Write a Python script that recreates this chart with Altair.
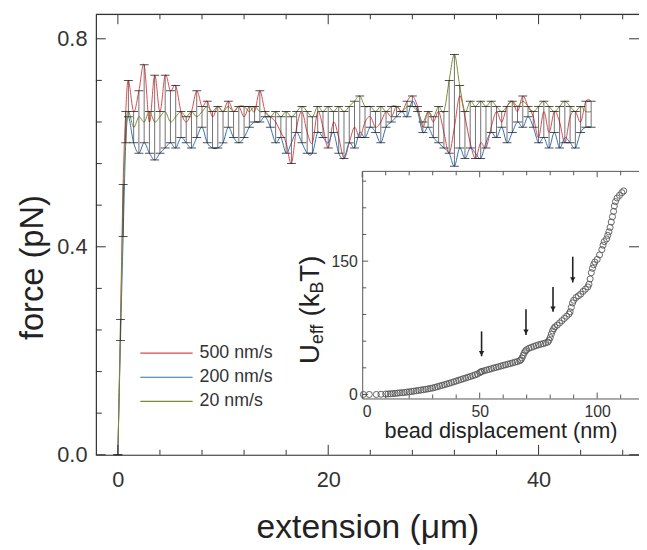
import altair as alt
import pandas as pd

FONT = "Liberation Sans"
AX = "#333333"

# ---------------- main panel data ----------------
extension = [0, 0.25, 0.5, 0.75, 1.0,
             1.5, 2.0, 2.5, 3.0, 3.5, 4.0, 4.5, 5.0, 5.5, 6.0,
             6.5, 7.0, 7.5, 8.0, 8.5, 9.0, 9.5, 10.0, 10.5, 11.0,
             11.5, 12.0, 12.5, 13.0, 13.5, 14.0, 14.5, 15.0, 15.5, 16.0,
             16.5, 17.0, 17.5, 18.0, 18.5, 19.0, 19.5, 20.0, 20.5, 21.0,
             21.5, 22.0, 22.5, 23.0, 23.5, 24.0, 24.5, 25.0, 25.5, 26.0,
             26.5, 27.0, 27.5, 28.0, 28.5, 29.0, 29.5, 30.0, 30.5, 31.0,
             31.5, 32.0, 32.5, 33.0, 33.5, 34.0, 34.5, 35.0, 35.5, 36.0,
             36.5, 37.0, 37.5, 38.0, 38.5, 39.0, 39.5, 40.0, 40.5, 41.0,
             41.5, 42.0, 42.5, 43.0, 43.5, 44.0, 44.5, 45.0]

force_500 = [0.00, 0.26, 0.52, 0.66, 0.72,
             0.66, 0.70, 0.75, 0.64, 0.73, 0.66, 0.73, 0.70, 0.71, 0.66,
             0.64, 0.66, 0.70, 0.67, 0.68, 0.65, 0.67, 0.66, 0.68, 0.66,
             0.67, 0.65, 0.67, 0.66, 0.70, 0.66, 0.65, 0.64, 0.62, 0.60,
             0.56, 0.63, 0.66, 0.62, 0.60, 0.66, 0.63, 0.59, 0.64, 0.61,
             0.57, 0.60, 0.63, 0.61, 0.64, 0.65, 0.63, 0.64, 0.66, 0.65,
             0.67, 0.66, 0.68, 0.69, 0.67, 0.63, 0.66, 0.64, 0.66, 0.62,
             0.58, 0.63, 0.69, 0.65, 0.60, 0.57, 0.60, 0.59, 0.63, 0.66,
             0.64, 0.67, 0.68, 0.66, 0.69, 0.67, 0.65, 0.61, 0.66, 0.62,
             0.66, 0.64, 0.60, 0.65, 0.66, 0.64, 0.68, 0.68]

force_200 = [0.00, 0.22, 0.42, 0.60, 0.65,
             0.60, 0.58, 0.60, 0.58, 0.567, 0.58, 0.59, 0.60, 0.59, 0.61,
             0.60, 0.59, 0.61, 0.63, 0.60, 0.59, 0.59, 0.60, 0.63, 0.61,
             0.60, 0.61, 0.63, 0.64, 0.64, 0.65, 0.63, 0.60, 0.61, 0.58,
             0.60, 0.62, 0.60, 0.58, 0.58, 0.62, 0.61, 0.60, 0.62, 0.58,
             0.57, 0.60, 0.59, 0.62, 0.61, 0.63, 0.62, 0.60, 0.63, 0.64,
             0.65, 0.66, 0.65, 0.68, 0.66, 0.62, 0.63, 0.61, 0.60, 0.59,
             0.58, 0.555, 0.59, 0.57, 0.59, 0.58, 0.57, 0.60, 0.62, 0.61,
             0.63, 0.60, 0.62, 0.64, 0.63, 0.65, 0.63, 0.60, 0.61, 0.59,
             0.62, 0.59, 0.61, 0.60, 0.59, 0.62, 0.63, 0.63]

force_20 = [0.00, 0.24, 0.48, 0.62, 0.66,
            0.63, 0.65, 0.64, 0.66, 0.64, 0.65, 0.66, 0.64, 0.65, 0.66,
            0.65, 0.66, 0.65, 0.66, 0.67, 0.66, 0.67, 0.66, 0.67, 0.66,
            0.67, 0.67, 0.66, 0.67, 0.66, 0.66, 0.65, 0.66, 0.65, 0.66,
            0.65, 0.66, 0.67, 0.66, 0.65, 0.67, 0.66, 0.67, 0.66, 0.67,
            0.66, 0.67, 0.68, 0.69, 0.67, 0.67, 0.66, 0.67, 0.66, 0.67,
            0.67, 0.66, 0.67, 0.67, 0.66, 0.64, 0.66, 0.65, 0.67, 0.66,
            0.72, 0.77, 0.71, 0.66, 0.68, 0.67, 0.68, 0.67, 0.68, 0.67,
            0.66, 0.67, 0.68, 0.67, 0.68, 0.67, 0.66, 0.67, 0.68, 0.67,
            0.66, 0.67, 0.68, 0.67, 0.66, 0.67, 0.66, 0.66]

series_names = ["500 nm/s", "200 nm/s", "20 nm/s"]
series_colors = ["#e0474c", "#2f6fba", "#7d8c2e"]

main_x_major = [0, 20, 40]
main_x_minor = [4, 8, 12, 16, 24, 28, 32, 36, 44, 48]
main_y_major = [0.0, 0.4, 0.8]
main_y_minor = [0.08, 0.16, 0.24, 0.32, 0.48, 0.56, 0.64, 0.72]

# ---------------- inset data ----------------
displacement = [0.5, 3, 6, 8, 10,
                11, 12, 13, 14, 15, 16, 17, 18, 19, 20,
                21, 22, 23, 24, 25, 26, 27, 28, 29, 30,
                31, 32, 33, 34, 35, 36, 37, 38, 39, 40,
                41, 42, 43, 44, 45, 46, 47, 48, 49, 50,
                50.5,
                51, 52, 53, 54, 55, 56, 57, 58, 59, 60, 61, 62, 63, 64, 65, 66, 67,
                67.5, 68, 68.5, 69, 69.5, 70,
                71, 72, 73, 74, 75, 76, 77, 78, 79,
                79.5, 80, 80.5, 81, 81.5, 82,
                83, 84, 85, 86, 87, 88,
                88.5, 89, 89.5, 90,
                91, 92, 93, 94, 95, 96,
                96.5, 97, 97.5, 98, 98.5, 99,
                100, 101, 102,
                102.5, 103, 104,
                104.5, 105, 105.5, 106, 106.5, 107,
                107.3, 107.8, 108.5, 109.5, 110.5, 111.3]

u_eff = [0, 0, 0, 0.3, 0.5,
         0.6, 0.8, 1.0, 1.2, 1.5, 1.8, 2.0, 2.3, 2.7, 3.0,
         3.4, 3.8, 4.2, 4.6, 5.0, 5.4, 5.8, 6.3, 6.8, 7.3,
         8.0, 8.8, 9.5, 10.3, 11.0, 11.8, 12.6, 13.4, 14.3, 15.1,
         16.0, 16.8, 17.7, 18.5, 19.4, 20.2, 21.1, 22.0, 23.0, 24.5,
         25.5,
         26.0, 26.8, 27.5, 28.2, 29.0, 29.8, 30.5, 31.2, 32.0, 32.7, 33.4, 34.1, 34.8, 35.5, 36.3, 37.0, 38.0,
         39.0, 41.0, 44.0, 47.0, 49.0, 50.5,
         52.0, 53.0, 54.0, 55.0, 55.8, 56.5, 57.2, 58.0, 59.0,
         61.0, 64.0, 68.0, 71.5, 74.0, 76.0,
         78.0, 80.5, 83.0, 85.5, 88.0, 90.5,
         93.0, 98.0, 103.0, 106.0,
         109.0, 111.0, 113.0, 116.0, 118.5, 121.0,
         124.0, 130.0, 137.0, 142.0, 146.0, 149.0,
         152.0, 157.0, 163.0,
         168.0, 172.0, 175.0,
         179.0, 183.0, 188.0, 194.0, 200.0, 206.0,
         212.0, 217.0, 221.0, 224.0, 227.0, 229.0]

arrow_disp = [50.8, 69.7, 81.2, 89.6]
arrow_top = [71, 96, 121, 155]
arrow_tip = [43, 67, 93, 126]

inset_x_major = [0, 50, 100]
inset_x_minor = [10, 20, 30, 40, 60, 70, 80, 90, 110]
inset_y_major = [0, 150]
inset_y_minor = [30, 60, 90, 120, 180, 210, 240]

# ---------------- layout ----------------
W, H = 550, 446
X_DOM = [-2.09, 49.55]
Y_DOM = [0, 0.847]
IX0, IX1 = 269.7, 550      # inset left/right (px, plot coords)
IY0, IY1 = 159, 389        # inset top/bottom
I_X_DOM = [0, 117.8]
I_Y_DOM = [-4.5, 251]


def x_scale():
    return alt.Scale(domain=X_DOM, range=[0, W], nice=False, zero=False)


def y_scale():
    return alt.Scale(domain=Y_DOM, range=[H, 0], nice=False, zero=False)


def ix_scale():
    return alt.Scale(domain=I_X_DOM, range=[IX0, IX1], nice=False, zero=False)


def iy_scale():
    return alt.Scale(domain=I_Y_DOM, range=[IY1, IY0], nice=False, zero=False)


color_scale = alt.Scale(domain=series_names, range=series_colors)

df = pd.DataFrame({
    "extension": extension * 3,
    "force": force_500 + force_200 + force_20,
    "series": [s for s in series_names for _ in extension],
})

x_axis = alt.Axis(orient="bottom", values=main_x_major, format="d", ticks=False, tickSize=0,
                  labelFontSize=22, labelPadding=15, labelFont=FONT, labelColor=AX,
                  domainColor=AX, domainWidth=1.2, grid=False,
                  title="extension (μm)", titleFontSize=34, titleFont=FONT,
                  titleFontWeight="normal", titleColor="#222", titleY=74,
                  titleBaseline="middle")
y_axis = alt.Axis(orient="left", values=main_y_major, format=".1f", ticks=False, tickSize=0,
                  labelFontSize=22, labelPadding=9, labelFont=FONT, labelColor=AX,
                  domainColor=AX, domainWidth=1.2, grid=False,
                  title="force (pN)", titleFontSize=33, titleFont=FONT,
                  titleFontWeight="normal", titleColor="#222", titleAngle=270,
                  titleX=-64, titleY=256, titleAlign="center", titleBaseline="middle")

lines = alt.Chart(df).mark_line(strokeWidth=1, interpolate="cardinal").encode(
    x=alt.X("extension:Q", scale=x_scale(), axis=x_axis),
    y=alt.Y("force:Q", scale=y_scale(), axis=y_axis),
    color=alt.Color("series:N", scale=color_scale, legend=None),
)

errbars = alt.Chart(df).mark_rule(color="#333", strokeWidth=0.7).encode(
    x=alt.X("extension:Q", scale=x_scale(), axis=None),
    y=alt.Y("min(force):Q", scale=y_scale(), axis=None), y2="max(force):Q")
caps_lo = alt.Chart(df).mark_tick(orient="horizontal", size=9, thickness=0.8, color="#222").encode(
    x=alt.X("extension:Q", scale=x_scale(), axis=None),
    y=alt.Y("min(force):Q", scale=y_scale(), axis=None))
caps_hi = alt.Chart(df).mark_tick(orient="horizontal", size=9, thickness=0.8, color="#222").encode(
    x=alt.X("extension:Q", scale=x_scale(), axis=None),
    y=alt.Y("max(force):Q", scale=y_scale(), axis=None))


def xticks(vals, scale, y0, y1, color=AX, w=1):
    return alt.Chart(pd.DataFrame({"v": vals})).mark_rule(color=color, strokeWidth=w).encode(
        x=alt.X("v:Q", scale=scale, axis=None), y=alt.value(y0), y2=alt.value(y1))


def yticks(vals, scale, x0, x1, color=AX, w=1):
    return alt.Chart(pd.DataFrame({"v": vals})).mark_rule(color=color, strokeWidth=w).encode(
        y=alt.Y("v:Q", scale=scale, axis=None), x=alt.value(x0), x2=alt.value(x1))


one = pd.DataFrame({"a": [0]})
main_frame_top = alt.Chart(one).mark_rule(color=AX, strokeWidth=1.2).encode(
    x=alt.value(0), x2=alt.value(W), y=alt.value(0))

main_layers = [
    lines, errbars, caps_lo, caps_hi,
    xticks(main_x_major, x_scale(), H, H - 10), xticks(main_x_minor, x_scale(), H, H - 5),
    xticks(main_x_major, x_scale(), 0, 10), xticks(main_x_minor, x_scale(), 0, 5),
    yticks(main_y_major, y_scale(), 0, 10), yticks(main_y_minor, y_scale(), 0, 6),
    yticks(main_y_major, y_scale(), W - 10, W),
    main_frame_top,
]

# ---------------- inset ----------------
IAX = "#555555"
idf = pd.DataFrame({"disp": displacement, "u": u_eff})
adf = pd.DataFrame({"disp": arrow_disp, "top": arrow_top, "tip": arrow_tip})

ix_axis = alt.Axis(orient="bottom", offset=-(H - IY1), values=inset_x_major, format="d",
                   ticks=False, tickSize=0, labelFontSize=16, labelPadding=5, labelFont=FONT,
                   labelColor=AX, domainColor=IAX, domainWidth=1, grid=False,
                   title="bead displacement (nm)", titleFontSize=22, titleFont=FONT,
                   titleFontWeight="normal", titleColor="#222", titleY=33,
                   titleBaseline="middle")
iy_axis = alt.Axis(orient="left", offset=-IX0, values=inset_y_major, format="d",
                   ticks=False, tickSize=0, labelFontSize=16, labelPadding=5, labelFont=FONT,
                   labelColor=AX, domainColor=IAX, domainWidth=1, grid=False, title=None)

circles = alt.Chart(idf).mark_point(shape="circle", filled=False, size=38, color="#555",
                                    strokeWidth=0.9, opacity=1).encode(
    x=alt.X("disp:Q", scale=ix_scale(), axis=ix_axis),
    y=alt.Y("u:Q", scale=iy_scale(), axis=iy_axis),
)
arrow_shaft = alt.Chart(adf).mark_rule(color="#222", strokeWidth=1.6).encode(
    x=alt.X("disp:Q", scale=ix_scale(), axis=None),
    y=alt.Y("top:Q", scale=iy_scale(), axis=None), y2="tip:Q")
arrow_head = alt.Chart(adf).mark_point(shape="triangle-down", filled=True, size=30,
                                       color="#222", opacity=1, yOffset=-3).encode(
    x=alt.X("disp:Q", scale=ix_scale(), axis=None),
    y=alt.Y("tip:Q", scale=iy_scale(), axis=None))

inset_frame_top = alt.Chart(one).mark_rule(color=IAX, strokeWidth=1).encode(
    x=alt.value(IX0), x2=alt.value(IX1), y=alt.value(IY0))

inset_layers = [
    circles, arrow_shaft, arrow_head,
    xticks(inset_x_major, ix_scale(), IY1, IY1 - 6, IAX), xticks(inset_x_minor, ix_scale(), IY1, IY1 - 4, IAX),
    xticks(inset_x_major, ix_scale(), IY0, IY0 + 6, IAX), xticks(inset_x_minor, ix_scale(), IY0, IY0 + 4, IAX),
    yticks(inset_y_major, iy_scale(), IX0, IX0 + 6, IAX), yticks(inset_y_minor, iy_scale(), IX0, IX0 + 4, IAX),
    inset_frame_top,
]

# inset y title with subscripts: U_eff (k_B T)


def rot_text(s, x, y, size):
    return alt.Chart(pd.DataFrame({"t": [s]})).mark_text(
        angle=270, align="left", baseline="middle", fontSize=size, font=FONT, color="#222"
    ).encode(text="t:N", x=alt.value(x), y=alt.value(y))


TX = 218
title_layers = [
    rot_text("U", TX, 354, 28),
    rot_text("eff", TX + 7, 333.8, 18),
    rot_text("(k", TX, 306, 28),
    rot_text("B", TX + 7, 282.7, 18),
    rot_text("T)", TX, 270.7, 28),
]

# legend
leg = pd.DataFrame({"series": series_names})
leg_lines = alt.Chart(leg).mark_rule(strokeWidth=1.2).encode(
    y=alt.Y("series:N", scale=alt.Scale(type="point", domain=series_names, range=[343, 392], padding=0),
            axis=None),
    x=alt.value(45), x2=alt.value(98),
    color=alt.Color("series:N", scale=color_scale, legend=None))
leg_text = alt.Chart(leg).mark_text(align="left", baseline="middle", fontSize=18, font=FONT,
                                    color="#333").encode(
    y=alt.Y("series:N", scale=alt.Scale(type="point", domain=series_names, range=[343, 392], padding=0),
            axis=None),
    x=alt.value(105), text="series:N")

chart = alt.layer(
    *main_layers, *inset_layers, leg_lines, leg_text, *title_layers
).resolve_scale(
    x="independent", y="independent"
).resolve_axis(
    x="independent", y="independent"
).properties(
    width=W, height=H,
    padding={"left": 89, "top": 3, "right": 0, "bottom": 93},
    autosize=alt.AutoSizeParams(type="none"),
).configure_view(stroke=None).configure(background="white")

chart.save("out.html", embed_options={"renderer": "svg", "actions": False})
